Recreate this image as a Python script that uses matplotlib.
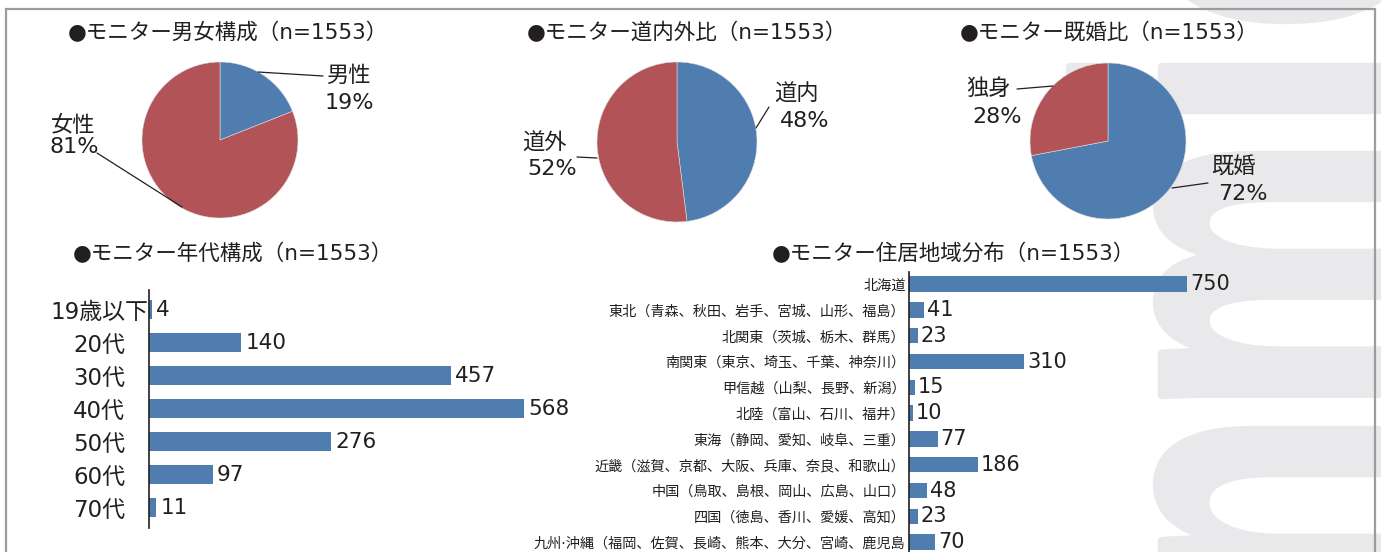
"""Monitor profile charts: three pies and two horizontal bar charts."""

import matplotlib

matplotlib.use("Agg")
import matplotlib.pyplot as plt
import numpy as np
from matplotlib.font_manager import FontProperties
from matplotlib.patches import PathPatch
from matplotlib.path import Path
from matplotlib.textpath import TextPath

plt.rcParams["font.family"] = ["DejaVu Sans", "Noto Sans CJK JP"]

# ---- data -------------------------------------------------------------
gender_labels = ["男性", "女性"]
gender_values = [19, 81]

area_labels = ["道内", "道外"]
area_values = [48, 52]

marital_labels = ["既婚", "独身"]
marital_values = [72, 28]

age_labels = ["19歳以下", "20代", "30代", "40代", "50代", "60代", "70代"]
age_values = [4, 140, 457, 568, 276, 97, 11]

region_labels = [
    "北海道",
    "東北（青森、秋田、岩手、宮城、山形、福島）",
    "北関東（茨城、栃木、群馬）",
    "南関東（東京、埼玉、千葉、神奈川）",
    "甲信越（山梨、長野、新潟）",
    "北陸（富山、石川、福井）",
    "東海（静岡、愛知、岐阜、三重）",
    "近畿（滋賀、京都、大阪、兵庫、奈良、和歌山）",
    "中国（鳥取、島根、岡山、広島、山口）",
    "四国（徳島、香川、愛媛、高知）",
    "九州·沖縄（福岡、佐賀、長崎、熊本、大分、宮崎、鹿児島",
]
region_values = [750, 41, 23, 310, 15, 10, 77, 186, 48, 23, 70]

titles = [
    "●モニター男女構成（n=1553）",
    "●モニター道内外比（n=1553）",
    "●モニター既婚比（n=1553）",
    "●モニター年代構成（n=1553）",
    "●モニター住居地域分布（n=1553）",
]

# ---- style ------------------------------------------------------------
W, H = 1381, 552
BLUE = "#4f7db0"
RED = "#b25457"
INK = "#231f20"
WM_COLOR = "#e9e9ec"
FRAME = "#9c9c9c"

fig = plt.figure(figsize=(W / 100, H / 100), dpi=100)


def px_rect(x0, y0, x1, y1):
    return [x0 / W, 1 - y1 / H, (x1 - x0) / W, (y1 - y0) / H]


# ---- background: watermark lettering and frame -------------------------
bg = fig.add_axes([0, 0, 1, 1], zorder=0)
bg.set_xlim(0, W)
bg.set_ylim(0, H)
bg.axis("off")

wm_font = FontProperties(family="Liberation Sans", weight="bold")


def glyph_path(ch):
    tp = TextPath((0, 0), ch, size=1, prop=wm_font)
    real = tp.vertices[tp.codes != Path.CLOSEPOLY]
    return tp, real


_, m_real = glyph_path("m")
EM_R = 240 / (m_real[:, 0].max() - m_real[:, 0].min())
EM_V = 470
X_BASE = 1157 + m_real[:, 1].max() * EM_V


def watermark_glyph(ch, start=None, end=None):
    tp, real = glyph_path(ch)
    if start is not None:
        y0 = start - real[:, 0].min() * EM_R
    else:
        y0 = end - real[:, 0].max() * EM_R
    verts = np.column_stack([X_BASE - tp.vertices[:, 1] * EM_V, y0 + tp.vertices[:, 0] * EM_R])
    bg.add_patch(PathPatch(Path(verts, tp.codes), fc=WM_COLOR, ec=WM_COLOR, lw=6,
                           joinstyle="round", zorder=1))


watermark_glyph("n", end=H - 430)
watermark_glyph("m", start=H - 395)
watermark_glyph("i", start=H - 110)
watermark_glyph("o", start=H - 20)

bg.plot([6, 6, 1375, 1375], [-5, H - 9, H - 9, -5], color=FRAME, lw=1.6, zorder=2,
        solid_joinstyle="miter")

# ---- titles -----------------------------------------------------------
for text, (x, y) in zip(titles, [(68, 33), (527, 33), (960, 33), (73, 254), (772, 254)]):
    fig.text(x / W, 1 - y / H, text, ha="left", va="center", fontsize=15.5, color=INK)

# ---- pies -------------------------------------------------------------
pie_layout = [
    dict(center=(220, 140), r=78,
         text=[((348, 76), (349, 103)), ((73, 125), (74, 147))],
         lines=[((258, 72), (323, 76)), ((182, 207), (97, 153))]),
    dict(center=(677, 142), r=80,
         text=[((796, 94), (805, 121)), ((544, 143), (552, 169))],
         lines=[((756, 128), (769, 107)), ((597, 158), (577, 157))]),
    dict(center=(1108, 141), r=78,
         text=[((1233, 167), (1243, 194)), ((989, 89), (997, 117))],
         lines=[((1172, 188), (1208, 183)), ((1053, 86), (1017, 89))]),
]

for (labels, values), lay in zip(
    [(gender_labels, gender_values), (area_labels, area_values), (marital_labels, marital_values)],
    pie_layout,
):
    cx, cy = lay["center"]
    r = lay["r"]
    ax = fig.add_axes(px_rect(cx - r, cy - r, cx + r, cy + r), zorder=3)
    ax.pie(values, colors=[BLUE, RED], startangle=90, counterclock=False,
           wedgeprops=dict(edgecolor="#dcdcdc", linewidth=0.4))
    ax.set_xlim(-1, 1)
    ax.set_ylim(-1, 1)
    ax.axis("off")

    def to(p):
        return ((p[0] - cx) / r, (cy - p[1]) / r)

    for label, value, (name_pos, pct_pos), (a, b) in zip(labels, values, lay["text"], lay["lines"]):
        ax.text(*to(name_pos), label, ha="center", va="center", fontsize=16, color=INK, clip_on=False)
        ax.text(*to(pct_pos), f"{value}%", ha="center", va="center", fontsize=16, color=INK,
                clip_on=False)
        ax.annotate("", xy=to(a), xytext=to(b), annotation_clip=False,
                    arrowprops=dict(arrowstyle="-", lw=0.9, color=INK, shrinkA=0, shrinkB=0))


# ---- horizontal bars ----------------------------------------------------
def bar_panel(rect, labels, values, xmax, ylim, bar_h, label_size, label_pad, value_size, value_gap,
              label_ha="right"):
    ax = fig.add_axes(rect, zorder=3)
    ax.patch.set_visible(False)
    y = np.arange(len(labels))
    ax.barh(y, values, height=bar_h, color=BLUE)
    ax.set_xlim(0, xmax)
    ax.set_ylim(*ylim)
    ax.set_yticks(y)
    ax.set_yticklabels(labels, fontsize=label_size, color=INK, ha=label_ha)
    ax.tick_params(axis="y", length=0, pad=label_pad)
    ax.set_xticks([])
    for side in ["top", "right", "bottom"]:
        ax.spines[side].set_visible(False)
    ax.spines["left"].set_color(INK)
    ax.spines["left"].set_linewidth(1.2)
    for yi, v in zip(y, values):
        ax.annotate(str(v), (v, yi), xytext=(value_gap, 0), textcoords="offset pixels",
                    ha="left", va="center", fontsize=value_size, color=INK)
    return ax


# age: axis at x=149, 33 px per row
bar_panel(px_rect(149, 290, 149 + 600 * 0.66, 290 + 7.2 * 33), age_labels, age_values,
          xmax=600, ylim=(6.6, -0.6), bar_h=0.58, label_size=16.5, label_pad=50 * 0.72,
          value_size=15.5, value_gap=4, label_ha="center")

# region: axis at x=909, 25.8 px per row, runs off the bottom edge
bar_panel(px_rect(909, 272, 909 + 800 * 0.371, 272 + 11.47 * 25.8), region_labels, region_values,
          xmax=800, ylim=(11.0, -0.47), bar_h=0.6, label_size=10.2, label_pad=2.5,
          value_size=15, value_gap=3)

fig.savefig("out.png", dpi=100)
